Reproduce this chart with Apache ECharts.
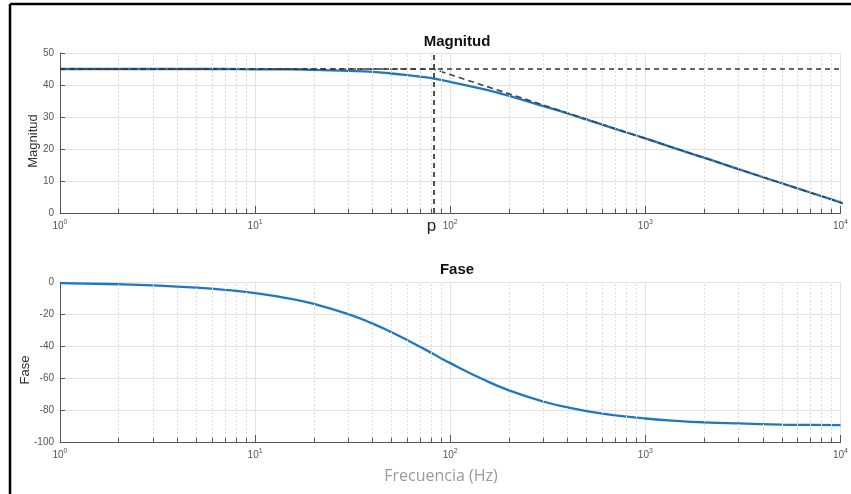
<!DOCTYPE html>
<html>
<head>
<meta charset="utf-8">
<script src="https://cdn.jsdelivr.net/npm/echarts@6/dist/echarts.min.js"></script>
<style>
  html, body { margin: 0; padding: 0; background: #fff; }
  #chart { width: 851px; height: 494px; }
</style>
</head>
<body>
<div id="chart"></div>
<script>
// frecuencias (Hz)
const freq = [1, 2, 3, 5, 7, 10, 15, 20, 30, 40, 50, 60, 70, 82, 100, 150, 200, 300, 400, 500, 700, 1000, 1500, 2000, 3000, 5000, 7000, 10000, 10800];
// magnitud (dB)
const magnitud = [45.0, 45.0, 45.0, 45.0, 45.0, 44.9, 44.9, 44.7, 44.4, 44.1, 43.6, 43.1, 42.6, 42.0, 41.0, 38.6, 36.6, 33.4, 31.1, 29.2, 26.3, 23.3, 19.7, 17.3, 13.7, 9.3, 6.4, 3.3, 2.6];
// fase (grados), llega hasta 10^4
const fase = [-0.7, -1.4, -2.1, -3.5, -4.9, -7.0, -10.4, -13.7, -20.1, -26.0, -31.4, -36.2, -40.5, -45.0, -50.7, -61.3, -67.7, -74.7, -78.4, -80.7, -83.3, -85.3, -86.9, -87.7, -88.4, -89.1, -89.3, -89.5];
// polo y asintotas
const polo = 82;
const ganancia = 45;
const asintotaFreq = [1, 82, 10800];
const asintotaMag = [45, 45, 2.6];
// rejilla logaritmica
const decadas = [1, 10, 100, 1000, 10000];
const menores = [2, 3, 4, 5, 6, 7, 8, 9, 20, 30, 40, 50, 60, 70, 80, 90, 200, 300, 400, 500, 600, 700, 800, 900, 2000, 3000, 4000, 5000, 6000, 7000, 8000, 9000];

const chart = echarts.init(document.getElementById('chart'));

const azul = '#1f78bf';
const gris = '#555';
const fuente = '"Liberation Sans", Arial, sans-serif';

function ejeX(idx) {
  return {
    type: 'log',
    logBase: 10,
    gridIndex: idx,
    min: 1,
    max: 10000,
    axisLine: { onZero: false, lineStyle: { color: gris, width: 1 } },
    axisTick: { inside: true, length: 7, lineStyle: { color: gris } },
    axisLabel: {
      margin: 6,
      fontFamily: fuente,
      formatter: v => '{b|10}{s|' + Math.round(Math.log10(v)) + '}',
      rich: {
        b: { fontSize: 10, color: '#555', fontFamily: fuente },
        s: { fontSize: 7, color: '#555', fontFamily: fuente, padding: [0, 0, 7, 0] }
      }
    },
    splitLine: { show: true, lineStyle: { color: '#e2e2e2', width: 1 } }
  };
}

function ejeY(idx, nombre, min, max, intervalo, gap) {
  return {
    type: 'value',
    gridIndex: idx,
    min: min,
    max: max,
    interval: intervalo,
    name: nombre,
    nameLocation: 'middle',
    nameGap: gap,
    nameMoveOverlap: false,
    nameTextStyle: { fontSize: 13, color: '#333', fontFamily: fuente, padding: [0, 16, 0, 0] },
    axisLine: { show: true, lineStyle: { color: gris, width: 1 } },
    axisTick: { show: true, inside: true, length: 5, lineStyle: { color: gris } },
    axisLabel: { fontSize: 10, color: '#555', margin: 6, fontFamily: fuente },
    splitLine: { show: true, lineStyle: { color: '#e2e2e2', width: 1 } }
  };
}

// rejilla menor punteada y marcas menores hacia dentro
function rejillaMenor(idx, yMin, largo) {
  const datos = [];
  menores.forEach(v => {
    datos.push({ xAxis: v, lineStyle: { color: '#dcdcdc', type: [2, 2], width: 1 } });
    datos.push([
      { coord: [v, yMin], lineStyle: { color: gris, type: 'solid', width: 1 } },
      { coord: [v, yMin + largo] }
    ]);
  });
  return {
    type: 'line',
    xAxisIndex: idx,
    yAxisIndex: idx,
    data: [],
    silent: true,
    z: 1,
    markLine: {
      silent: true,
      symbol: 'none',
      animation: false,
      label: { show: false },
      data: datos
    }
  };
}

const option = {
  animation: false,
  backgroundColor: '#fff',
  title: [
    { text: 'Magnitud', left: 452, top: 29, textAlign: 'center',
      textStyle: { fontSize: 15, fontWeight: 'bold', color: '#111', fontFamily: fuente } },
    { text: 'Fase', left: 452, top: 257, textAlign: 'center',
      textStyle: { fontSize: 15, fontWeight: 'bold', color: '#111', fontFamily: fuente } },
    { text: 'Frecuencia (Hz)', left: 436, top: 463, textAlign: 'center',
      textStyle: { fontSize: 16, fontWeight: 'normal', color: '#9a9a9a', fontFamily: '"Open Sans", "Noto Sans", sans-serif' } }
  ],
  grid: [
    { left: 60, right: 7, top: 53, height: 160 },
    { left: 60, right: 7, top: 282, height: 160 }
  ],
  xAxis: [ejeX(0), ejeX(1)],
  yAxis: [
    ejeY(0, 'Magnitud', 0, 50, 10, 20),
    ejeY(1, 'Fase', -100, 0, 20, 28)
  ],
  graphic: [
    { type: 'line', shape: { x1: 10, y1: 4, x2: 851, y2: 4 }, style: { stroke: '#000', lineWidth: 2.5 }, z: 100 },
    { type: 'line', shape: { x1: 10, y1: 4, x2: 10, y2: 494 }, style: { stroke: '#000', lineWidth: 2.5 }, z: 100 }
  ],
  series: [
    rejillaMenor(0, 0, 1.3),
    rejillaMenor(1, -100, 2.6),
    {
      name: 'Magnitud',
      type: 'line',
      xAxisIndex: 0,
      yAxisIndex: 0,
      clip: false,
      smooth: true,
      showSymbol: false,
      z: 3,
      lineStyle: { color: azul, width: 2.3 },
      data: freq.map((f, i) => [f, magnitud[i]])
    },
    {
      name: 'Asintota',
      type: 'line',
      xAxisIndex: 0,
      yAxisIndex: 0,
      clip: false,
      showSymbol: false,
      z: 4,
      lineStyle: { color: '#444', width: 1.6, type: [6, 4] },
      data: asintotaFreq.map((f, i) => [f, asintotaMag[i]]),
      markLine: {
        silent: true,
        symbol: 'none',
        animation: false,
        lineStyle: { color: '#333', width: 1.7, type: [5, 4] },
        label: { show: false },
        data: [
          { yAxis: ganancia },
          {
            xAxis: polo,
            label: {
              show: true,
              position: 'start',
              formatter: 'p',
              distance: 5,
              offset: [-2, 0],
              fontSize: 17,
              color: '#222',
              fontFamily: fuente
            }
          }
        ]
      }
    },
    {
      name: 'Fase',
      type: 'line',
      xAxisIndex: 1,
      yAxisIndex: 1,
      smooth: true,
      showSymbol: false,
      z: 3,
      lineStyle: { color: azul, width: 2.3 },
      data: fase.map((v, i) => [freq[i], v])
    }
  ]
};

chart.setOption(option);
</script>
</body>
</html>
